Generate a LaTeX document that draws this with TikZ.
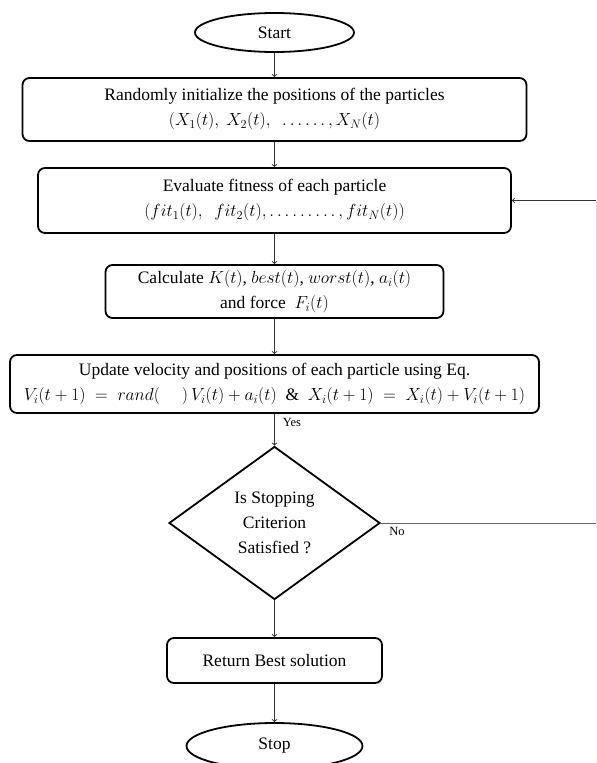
\documentclass[tikz,border=0pt]{standalone}
\usepackage{fix-cm}
\usepackage{fontspec}
\setmainfont{Liberation Serif}
\usetikzlibrary{shapes.geometric}

\newcommand*{\xmid}{274.5}
\newcommand*{\xfb}{596}
\newcommand*{\ydec}{523}

\begin{document}
\begin{tikzpicture}
[
	x=1pt, y=-1pt,
	txt/.style={font=\fontsize{17.5}{25}\selectfont},
	term/.style={txt,ellipse,draw,line width=1.8pt,inner sep=0pt},
	proc/.style={txt,rectangle,rounded corners=7pt,draw,line width=1.8pt,align=center,inner sep=0pt},
	decide/.style={txt,diamond,draw,line width=1.8pt,align=center,inner sep=0pt,aspect=1.37},
	flow/.style={->,line width=1pt,black!80},
	lbl/.style={font=\fontsize{12.5}{14}\selectfont,inner sep=0pt}
]
	\useasboundingbox (0,0) rectangle (597,763);

	% blocks
	\node[term,minimum width=159pt,minimum height=39pt] at (\xmid,32.5) (start) {Start};
	\node[proc,minimum width=504pt,minimum height=63pt] at (\xmid,109.5) (init)
		{Randomly initialize the positions of the particles\\
		$(X_1(t),\ X_2(t),\ \ \ldots\ldots,X_N(t)$};
	\node[proc,minimum width=473pt,minimum height=65pt] at (\xmid,200.5) (eval)
		{Evaluate fitness of each particle\\
		$(fit_1(t),\ \ fit_2(t),\ldots\ldots\ldots,fit_N(t))$};
	\node[proc,minimum width=338pt,minimum height=53pt] at (\xmid,291.5) (calc)
		{Calculate $K(t)$, $best(t)$, $worst(t)$, $a_i(t)$\\
		and force\ \ $F_i(t)$};
	\node[proc,minimum width=529pt,minimum height=58pt] at (\xmid,384) (update)
		{Update velocity and positions of each particle using Eq.\\
		$V_i(t+1) \;=\; rand(\quad\ )\,V_i(t) + a_i(t)$\ \ \&\ \ $X_i(t+1) \;=\; X_i(t) + V_i(t+1)$};
	\node[decide,minimum width=211pt,minimum height=153pt] at (\xmid,\ydec) (stopq)
		{Is Stopping\\Criterion\\Satisfied ?};
	\node[proc,minimum width=215pt,minimum height=45pt] at (\xmid,660.5) (best) {Return Best solution};
	\node[term,minimum width=176pt,minimum height=46pt] at (\xmid,746) (stop) {Stop};

	% main flow
	\draw[flow] (start) -- (init);
	\draw[flow] (init) -- (eval);
	\draw[flow] (eval) -- (calc);
	\draw[flow] (calc) -- (update);
	\draw[flow] (update) -- (stopq);
	\draw[flow] (stopq) -- (best);
	\draw[flow] (best) -- (stop);

	% loop back
	\coordinate (nocorner) at (\xfb,\ydec);
	\coordinate (fbcorner) at (\xfb,200.5);
	\draw[line width=1pt,black!60] (stopq.east) -- (nocorner);
	\draw[line width=0.6pt,black!15] (nocorner) -- (fbcorner);
	\draw[flow] (fbcorner) -- (eval.east);

	\node[lbl] at (292,422) (yes) {Yes};
	\node[lbl] at (397,531) (no) {No};

\end{tikzpicture}
\end{document}
